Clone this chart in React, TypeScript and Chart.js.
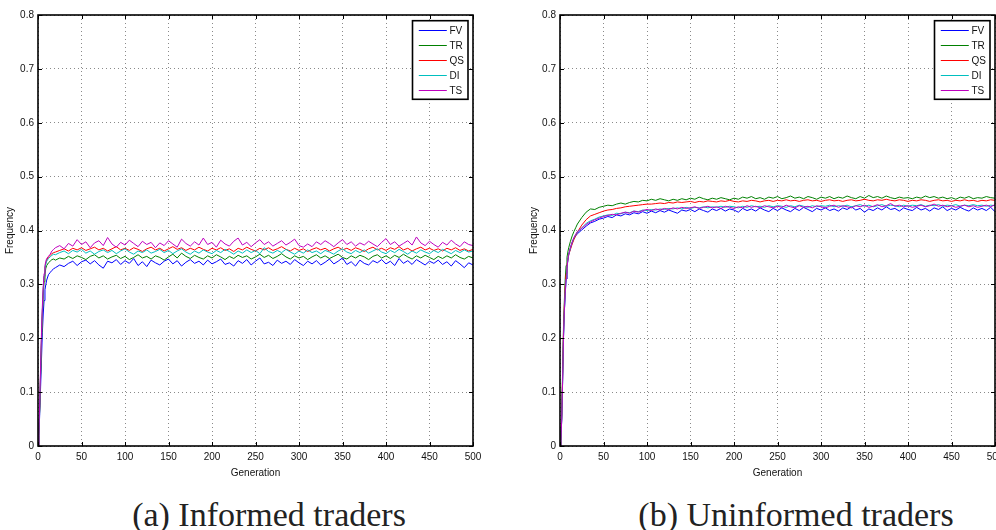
import React, { useEffect, useRef } from "react";
import { Chart, registerables } from "chart.js";

Chart.register(...registerables);

// Generation index of every sample
const generations = [
  0, 1, 2, 3, 4, 5, 6, 7, 8, 9, 10, 12, 14, 16, 18,
  20, 25, 30, 35, 40, 45, 50, 55, 60, 65, 70, 75, 80, 85, 90, 95,
  100, 105, 110, 115, 120, 125, 130, 135, 140, 145, 150, 155, 160, 165, 170, 175, 180, 185, 190, 195,
  200, 205, 210, 215, 220, 225, 230, 235, 240, 245, 250, 255, 260, 265, 270, 275, 280, 285, 290, 295,
  300, 305, 310, 315, 320, 325, 330, 335, 340, 345, 350, 355, 360, 365, 370, 375, 380, 385, 390, 395,
  400, 405, 410, 415, 420, 425, 430, 435, 440, 445, 450, 455, 460, 465, 470, 475, 480, 485, 490, 495,
  500,
];

// (a) informed traders
const informedFV = [
  0, 0.02, 0.06, 0.11, 0.16, 0.21, 0.245, 0.27, 0.29, 0.3, 0.308, 0.318, 0.322, 0.326, 0.329,
  0.331, 0.336, 0.333, 0.339, 0.343, 0.335, 0.342, 0.345, 0.338, 0.344, 0.336, 0.330, 0.343, 0.340, 0.346, 0.337,
  0.344, 0.339, 0.348, 0.335, 0.342, 0.333, 0.345, 0.340, 0.336, 0.343, 0.347, 0.338, 0.344, 0.334, 0.341, 0.346, 0.339, 0.343, 0.336, 0.345,
  0.338, 0.342, 0.347, 0.337, 0.340, 0.334, 0.344, 0.339, 0.346, 0.336, 0.343, 0.349, 0.338, 0.341, 0.335, 0.345, 0.339, 0.343, 0.337, 0.346,
  0.340, 0.335, 0.343, 0.338, 0.344, 0.336, 0.341, 0.347, 0.338, 0.343, 0.349, 0.337, 0.342, 0.334, 0.345, 0.339, 0.336, 0.344, 0.340, 0.346,
  0.338, 0.343, 0.335, 0.348, 0.339, 0.344, 0.337, 0.346, 0.341, 0.336, 0.343, 0.339, 0.345, 0.337, 0.342, 0.334, 0.344, 0.338, 0.331, 0.340,
  0.336,
];
const informedTR = [
  0, 0.02, 0.07, 0.13, 0.19, 0.24, 0.28, 0.305, 0.32, 0.33, 0.335, 0.34, 0.343, 0.346, 0.347,
  0.345, 0.349, 0.347, 0.352, 0.348, 0.353, 0.350, 0.346, 0.352, 0.355, 0.349, 0.353, 0.347, 0.351, 0.354, 0.348,
  0.352, 0.346, 0.350, 0.355, 0.349, 0.352, 0.347, 0.353, 0.350, 0.345, 0.351, 0.356, 0.349, 0.358, 0.352, 0.348, 0.354, 0.350, 0.347, 0.353,
  0.349, 0.355, 0.351, 0.346, 0.352, 0.348, 0.354, 0.350, 0.353, 0.347, 0.351, 0.356, 0.350, 0.354, 0.348, 0.352, 0.357, 0.351, 0.347, 0.353,
  0.349, 0.352, 0.346, 0.351, 0.355, 0.349, 0.353, 0.348, 0.352, 0.356, 0.350, 0.347, 0.353, 0.349, 0.354, 0.351, 0.346, 0.352, 0.355, 0.349,
  0.353, 0.348, 0.354, 0.350, 0.356, 0.351, 0.347, 0.353, 0.349, 0.354, 0.350, 0.346, 0.352, 0.348, 0.353, 0.349, 0.355, 0.350, 0.347, 0.352,
  0.349,
];
const informedQS = [
  0, 0.025, 0.075, 0.14, 0.2, 0.25, 0.29, 0.315, 0.33, 0.34, 0.345, 0.351, 0.354, 0.357, 0.359,
  0.360, 0.363, 0.366, 0.362, 0.367, 0.364, 0.368, 0.363, 0.366, 0.369, 0.364, 0.367, 0.362, 0.366, 0.370, 0.364,
  0.367, 0.363, 0.368, 0.365, 0.361, 0.366, 0.369, 0.364, 0.367, 0.362, 0.366, 0.370, 0.365, 0.368, 0.363, 0.367, 0.364, 0.369, 0.365, 0.362,
  0.367, 0.364, 0.368, 0.363, 0.366, 0.361, 0.367, 0.364, 0.369, 0.365, 0.362, 0.367, 0.364, 0.368, 0.363, 0.366, 0.370, 0.365, 0.362, 0.367,
  0.363, 0.366, 0.361, 0.365, 0.368, 0.364, 0.367, 0.362, 0.366, 0.369, 0.364, 0.367, 0.363, 0.368, 0.365, 0.361, 0.366, 0.369, 0.364, 0.367,
  0.363, 0.368, 0.365, 0.370, 0.364, 0.367, 0.362, 0.366, 0.369, 0.364, 0.367, 0.363, 0.366, 0.362, 0.367, 0.364, 0.368, 0.363, 0.366, 0.362,
  0.365,
];
const informedDI = [
  0, 0.025, 0.075, 0.14, 0.2, 0.25, 0.29, 0.315, 0.33, 0.338, 0.343, 0.348, 0.351, 0.354, 0.356,
  0.355, 0.359, 0.362, 0.357, 0.363, 0.360, 0.365, 0.358, 0.362, 0.356, 0.361, 0.364, 0.359, 0.363, 0.357, 0.362,
  0.366, 0.360, 0.356, 0.362, 0.359, 0.364, 0.358, 0.361, 0.365, 0.359, 0.363, 0.357, 0.362, 0.366, 0.360, 0.356, 0.362, 0.358, 0.364, 0.360,
  0.357, 0.363, 0.359, 0.365, 0.361, 0.356, 0.362, 0.358, 0.364, 0.359, 0.363, 0.357, 0.368, 0.361, 0.358, 0.363, 0.359, 0.365, 0.360, 0.356,
  0.362, 0.358, 0.364, 0.359, 0.362, 0.357, 0.363, 0.360, 0.356, 0.362, 0.366, 0.360, 0.357, 0.363, 0.359, 0.364, 0.358, 0.362, 0.366, 0.360,
  0.357, 0.363, 0.359, 0.365, 0.361, 0.356, 0.362, 0.358, 0.364, 0.360, 0.357, 0.363, 0.359, 0.365, 0.361, 0.357, 0.363, 0.359, 0.364, 0.360,
  0.362,
];
const informedTS = [
  0, 0.025, 0.08, 0.15, 0.21, 0.26, 0.295, 0.32, 0.335, 0.343, 0.348, 0.352, 0.356, 0.362, 0.365,
  0.368, 0.372, 0.366, 0.376, 0.371, 0.383, 0.374, 0.379, 0.368, 0.377, 0.381, 0.372, 0.387, 0.375, 0.369, 0.378,
  0.373, 0.382, 0.376, 0.370, 0.380, 0.374, 0.378, 0.368, 0.377, 0.372, 0.381, 0.375, 0.369, 0.384, 0.376, 0.371, 0.379, 0.373, 0.386, 0.374,
  0.378, 0.369, 0.382, 0.375, 0.371, 0.380, 0.386, 0.373, 0.378, 0.370, 0.377, 0.383, 0.374, 0.379, 0.371, 0.376, 0.381, 0.373, 0.378, 0.384,
  0.372, 0.369, 0.375, 0.370, 0.379, 0.374, 0.381, 0.376, 0.370, 0.377, 0.383, 0.374, 0.379, 0.371, 0.377, 0.373, 0.380, 0.375, 0.370, 0.378,
  0.385, 0.374, 0.379, 0.371, 0.376, 0.381, 0.373, 0.388, 0.377, 0.372, 0.380, 0.374, 0.369, 0.378, 0.373, 0.382, 0.375, 0.370, 0.379, 0.374,
  0.372,
];

// (b) uninformed traders
const uninformedFV = [
  0, 0.01, 0.05, 0.12, 0.2, 0.25, 0.28, 0.31, 0.33, 0.345, 0.355, 0.367, 0.377, 0.385, 0.39,
  0.394, 0.401, 0.408, 0.414, 0.417, 0.421, 0.423, 0.426, 0.424, 0.429, 0.427, 0.431, 0.429, 0.433, 0.431, 0.435,
  0.432, 0.436, 0.433, 0.437, 0.434, 0.438, 0.435, 0.432, 0.438, 0.436, 0.439, 0.435, 0.440, 0.437, 0.434, 0.440, 0.437, 0.441, 0.436, 0.440,
  0.438, 0.434, 0.441, 0.437, 0.440, 0.436, 0.442, 0.438, 0.435, 0.441, 0.437, 0.442, 0.438, 0.435, 0.441, 0.437, 0.443, 0.439, 0.435, 0.441,
  0.438, 0.442, 0.437, 0.440, 0.436, 0.442, 0.439, 0.444, 0.438, 0.441, 0.434, 0.440, 0.437, 0.442, 0.438, 0.444, 0.439, 0.441, 0.436, 0.442,
  0.439, 0.437, 0.443, 0.438, 0.441, 0.436, 0.442, 0.439, 0.444, 0.437, 0.441, 0.438, 0.443, 0.439, 0.436, 0.442, 0.438, 0.441, 0.437, 0.443,
  0.435,
];
const uninformedTR = [
  0, 0.01, 0.06, 0.14, 0.22, 0.27, 0.31, 0.335, 0.35, 0.36, 0.368, 0.38, 0.39, 0.398, 0.405,
  0.412, 0.424, 0.434, 0.440, 0.439, 0.443, 0.445, 0.447, 0.446, 0.449, 0.451, 0.449, 0.452, 0.454, 0.453, 0.456,
  0.455, 0.458, 0.456, 0.459, 0.457, 0.455, 0.458, 0.456, 0.459, 0.457, 0.460, 0.458, 0.462, 0.459, 0.457, 0.460, 0.458, 0.461, 0.459, 0.457,
  0.460, 0.458, 0.462, 0.460, 0.463, 0.459, 0.461, 0.458, 0.462, 0.460, 0.463, 0.459, 0.461, 0.464, 0.460, 0.462, 0.459, 0.463, 0.461, 0.458,
  0.462, 0.460, 0.463, 0.459, 0.462, 0.460, 0.464, 0.461, 0.459, 0.463, 0.460, 0.465, 0.461, 0.463, 0.460, 0.464, 0.461, 0.459, 0.462, 0.460,
  0.461, 0.459, 0.462, 0.460, 0.464, 0.461, 0.463, 0.460, 0.462, 0.459, 0.461, 0.458, 0.462, 0.460, 0.463, 0.459, 0.461, 0.460, 0.463, 0.461,
  0.460,
];
const uninformedQS = [
  0, 0.01, 0.055, 0.13, 0.21, 0.26, 0.295, 0.32, 0.335, 0.345, 0.355, 0.365, 0.375, 0.383, 0.39,
  0.397, 0.410, 0.420, 0.427, 0.430, 0.433, 0.436, 0.438, 0.439, 0.441, 0.442, 0.444, 0.445, 0.446, 0.447, 0.448,
  0.449, 0.449, 0.450, 0.451, 0.450, 0.452, 0.451, 0.453, 0.452, 0.453, 0.454, 0.452, 0.454, 0.453, 0.455, 0.454, 0.453, 0.455, 0.454, 0.456,
  0.454, 0.453, 0.455, 0.454, 0.456, 0.455, 0.453, 0.455, 0.456, 0.454, 0.456, 0.455, 0.457, 0.455, 0.456, 0.454, 0.456, 0.457, 0.455, 0.456,
  0.454, 0.456, 0.457, 0.455, 0.456, 0.454, 0.456, 0.457, 0.455, 0.456, 0.458, 0.456, 0.455, 0.457, 0.456, 0.458, 0.456, 0.455, 0.457, 0.456,
  0.454, 0.456, 0.455, 0.457, 0.456, 0.454, 0.456, 0.457, 0.455, 0.456, 0.454, 0.456, 0.455, 0.457, 0.455, 0.456, 0.454, 0.456, 0.455, 0.457,
  0.456,
];
const uninformedDI = [
  0, 0.01, 0.05, 0.12, 0.2, 0.25, 0.285, 0.31, 0.33, 0.345, 0.355, 0.368, 0.378, 0.386, 0.392,
  0.397, 0.405, 0.413, 0.418, 0.421, 0.425, 0.427, 0.429, 0.428, 0.432, 0.431, 0.434, 0.433, 0.436, 0.435, 0.438,
  0.437, 0.439, 0.438, 0.440, 0.439, 0.441, 0.440, 0.442, 0.440, 0.443, 0.441, 0.443, 0.442, 0.444, 0.442, 0.444, 0.443, 0.445, 0.443, 0.445,
  0.444, 0.442, 0.445, 0.443, 0.446, 0.444, 0.445, 0.443, 0.446, 0.444, 0.446, 0.445, 0.443, 0.446, 0.444, 0.447, 0.445, 0.443, 0.446, 0.444,
  0.446, 0.445, 0.447, 0.444, 0.446, 0.445, 0.447, 0.444, 0.446, 0.448, 0.445, 0.447, 0.444, 0.446, 0.448, 0.445, 0.447, 0.446, 0.444, 0.447,
  0.445, 0.447, 0.446, 0.448, 0.445, 0.447, 0.446, 0.448, 0.445, 0.447, 0.446, 0.448, 0.445, 0.447, 0.446, 0.448, 0.446, 0.447, 0.445, 0.447,
  0.446,
];
const uninformedTS = [
  0, 0.01, 0.05, 0.12, 0.2, 0.25, 0.285, 0.31, 0.33, 0.345, 0.356, 0.369, 0.379, 0.387, 0.393,
  0.398, 0.404, 0.411, 0.416, 0.420, 0.423, 0.426, 0.428, 0.430, 0.429, 0.432, 0.434, 0.432, 0.436, 0.434, 0.437,
  0.439, 0.437, 0.440, 0.438, 0.441, 0.439, 0.442, 0.440, 0.443, 0.441, 0.442, 0.444, 0.441, 0.443, 0.445, 0.442, 0.444, 0.441, 0.445, 0.443,
  0.441, 0.444, 0.442, 0.446, 0.443, 0.445, 0.442, 0.446, 0.444, 0.442, 0.445, 0.443, 0.447, 0.444, 0.442, 0.446, 0.443, 0.445, 0.442, 0.446,
  0.444, 0.442, 0.445, 0.447, 0.443, 0.446, 0.444, 0.442, 0.446, 0.444, 0.447, 0.443, 0.445, 0.448, 0.444, 0.446, 0.450, 0.445, 0.447, 0.444,
  0.446, 0.443, 0.445, 0.447, 0.444, 0.446, 0.449, 0.445, 0.447, 0.444, 0.446, 0.443, 0.445, 0.447, 0.444, 0.446, 0.443, 0.445, 0.447, 0.444,
  0.448,
];

const seriesNames = ["FV", "TR", "QS", "DI", "TS"];
const seriesColors = ["#0000ff", "#008000", "#ff0000", "#00bfbf", "#bf00bf"];
const yTickLabels = ["0", "0.1", "0.2", "0.3", "0.4", "0.5", "0.6", "0.7", "0.8"];
const xTickLabels = ["0", "50", "100", "150", "200", "250", "300", "350", "400", "450", "500"];

const informedSeries = [informedFV, informedTR, informedQS, informedDI, informedTS];
const uninformedSeries = [uninformedFV, uninformedTR, uninformedQS, uninformedDI, uninformedTS];

const FONT = "'Liberation Sans', Arial, Helvetica, sans-serif";

// Boxed axes with inward tick marks and an in-plot legend, MATLAB style
const framePlugin = {
  id: "matlabFrame",
  afterDatasetsDraw(chart: any) {
    const { ctx, chartArea } = chart;
    const { left, right, top, bottom } = chartArea;
    const xs = chart.scales.x;
    const ys = chart.scales.y;
    ctx.save();
    ctx.strokeStyle = "#000";
    ctx.lineWidth = 1;
    const tl = 4;
    ctx.beginPath();
    xs.ticks.forEach((t: any) => {
      const px = Math.round(xs.getPixelForValue(t.value)) + 0.5;
      ctx.moveTo(px, bottom);
      ctx.lineTo(px, bottom - tl);
      ctx.moveTo(px, top);
      ctx.lineTo(px, top + tl);
    });
    ys.ticks.forEach((t: any) => {
      const py = Math.round(ys.getPixelForValue(t.value)) + 0.5;
      ctx.moveTo(left, py);
      ctx.lineTo(left + tl, py);
      ctx.moveTo(right, py);
      ctx.lineTo(right - tl, py);
    });
    ctx.stroke();
    ctx.lineWidth = 1.6;
    ctx.strokeRect(left, top, right - left, bottom - top);

    // legend
    const bw = 55.5;
    const bh = 78.6;
    const bx = right - 5 - bw;
    const by = top + 5.7;
    ctx.fillStyle = "#fff";
    ctx.fillRect(bx, by, bw, bh);
    ctx.lineWidth = 1.6;
    ctx.strokeRect(bx, by, bw, bh);
    ctx.font = `10px ${FONT}`;
    ctx.textBaseline = "middle";
    ctx.textAlign = "left";
    chart.data.datasets.forEach((ds: any, i: number) => {
      const y = Math.round(by + 9.6 + i * 15) + 0.5;
      ctx.strokeStyle = ds.borderColor;
      ctx.lineWidth = 1;
      ctx.beginPath();
      ctx.moveTo(bx + 6.3, y);
      ctx.lineTo(bx + 34.3, y);
      ctx.stroke();
      ctx.fillStyle = "#111";
      ctx.fillText(ds.label, bx + 37, y + 0.5);
    });
    ctx.restore();
  },
};

type PanelProps = {
  series: number[][];
  left: number;
  width: number;
  padLeft: number;
  padRight: number;
  yAxisWidth: number;
};

function Panel({ series, left, width, padLeft, padRight, yAxisWidth }: PanelProps) {
  const ref = useRef<HTMLCanvasElement | null>(null);
  useEffect(() => {
    if (!ref.current) return;
    const chart = new Chart(ref.current, {
      type: "line",
      data: {
        datasets: series.map((vals, i) => ({
          label: seriesNames[i],
          data: vals.map((v, k) => ({ x: generations[k], y: v })),
          borderColor: seriesColors[i],
          borderWidth: 1,
          pointRadius: 0,
          tension: 0,
          fill: false,
          order: seriesNames.length - 1 - i,
        })),
      },
      options: {
        responsive: false,
        animation: false,
        devicePixelRatio: 1,
        layout: { padding: { top: 15, right: padRight, bottom: 0, left: padLeft } },
        plugins: { legend: { display: false }, tooltip: { enabled: false } },
        scales: {
          x: {
            type: "linear",
            min: 0,
            max: 500,
            afterFit: (s: any) => {
              s.height = 36;
            },
            afterBuildTicks: (s: any) => {
              s.ticks = xTickLabels.map((l) => ({ value: Number(l) }));
            },
            ticks: {
              callback: (_v: any, i: number) => xTickLabels[i],
              padding: 5,
              maxRotation: 0,
              autoSkip: false,
              color: "#111",
              font: { family: FONT, size: 10 },
            },
            grid: { color: "#8a8a8a", lineWidth: 1, drawTicks: false },
            border: { display: false, dash: [1, 3] },
            title: {
              display: true,
              text: "Generation",
              color: "#111",
              font: { family: FONT, size: 10 },
              padding: { top: 0, bottom: 3 },
            },
          },
          y: {
            type: "linear",
            min: 0,
            max: 0.8,
            afterFit: (s: any) => {
              s.width = yAxisWidth;
            },
            afterBuildTicks: (s: any) => {
              s.ticks = yTickLabels.map((l) => ({ value: Number(l) }));
            },
            ticks: {
              callback: (_v: any, i: number) => yTickLabels[i],
              padding: 4,
              autoSkip: false,
              color: "#111",
              font: { family: FONT, size: 10 },
            },
            grid: { color: "#8a8a8a", lineWidth: 1, drawTicks: false },
            border: { display: false, dash: [1, 3] },
            title: {
              display: true,
              text: "Frequency",
              color: "#111",
              font: { family: FONT, size: 10 },
              padding: { top: 4, bottom: 0 },
            },
          },
        },
      },
      plugins: [framePlugin],
    } as any);
    return () => chart.destroy();
  }, [series, padLeft, padRight, yAxisWidth]);

  return (
    <canvas
      ref={ref}
      width={width}
      height={482}
      style={{ position: "absolute", left, top: 0, width, height: 482 }}
    />
  );
}

const captionStyle: React.CSSProperties = {
  position: "absolute",
  top: 498,
  fontFamily: "'Liberation Serif', 'Times New Roman', serif",
  fontSize: 34,
  lineHeight: "34px",
  color: "#222",
  whiteSpace: "nowrap",
  transform: "translateX(-50%)",
};

export default function App() {
  return (
    <div
      style={{
        position: "fixed",
        left: 0,
        top: 0,
        width: 996,
        height: 530,
        overflow: "hidden",
        background: "#fff",
      }}
    >
      <Panel series={informedSeries} left={0} width={500} padLeft={0} padRight={27} yAxisWidth={38} />
      <Panel series={uninformedSeries} left={500} width={520} padLeft={24} padRight={25} yAxisWidth={36} />
      <div style={{ ...captionStyle, left: 269 }}>(a) Informed traders</div>
      <div style={{ ...captionStyle, left: 796 }}>(b) Uninformed traders</div>
    </div>
  );
}
